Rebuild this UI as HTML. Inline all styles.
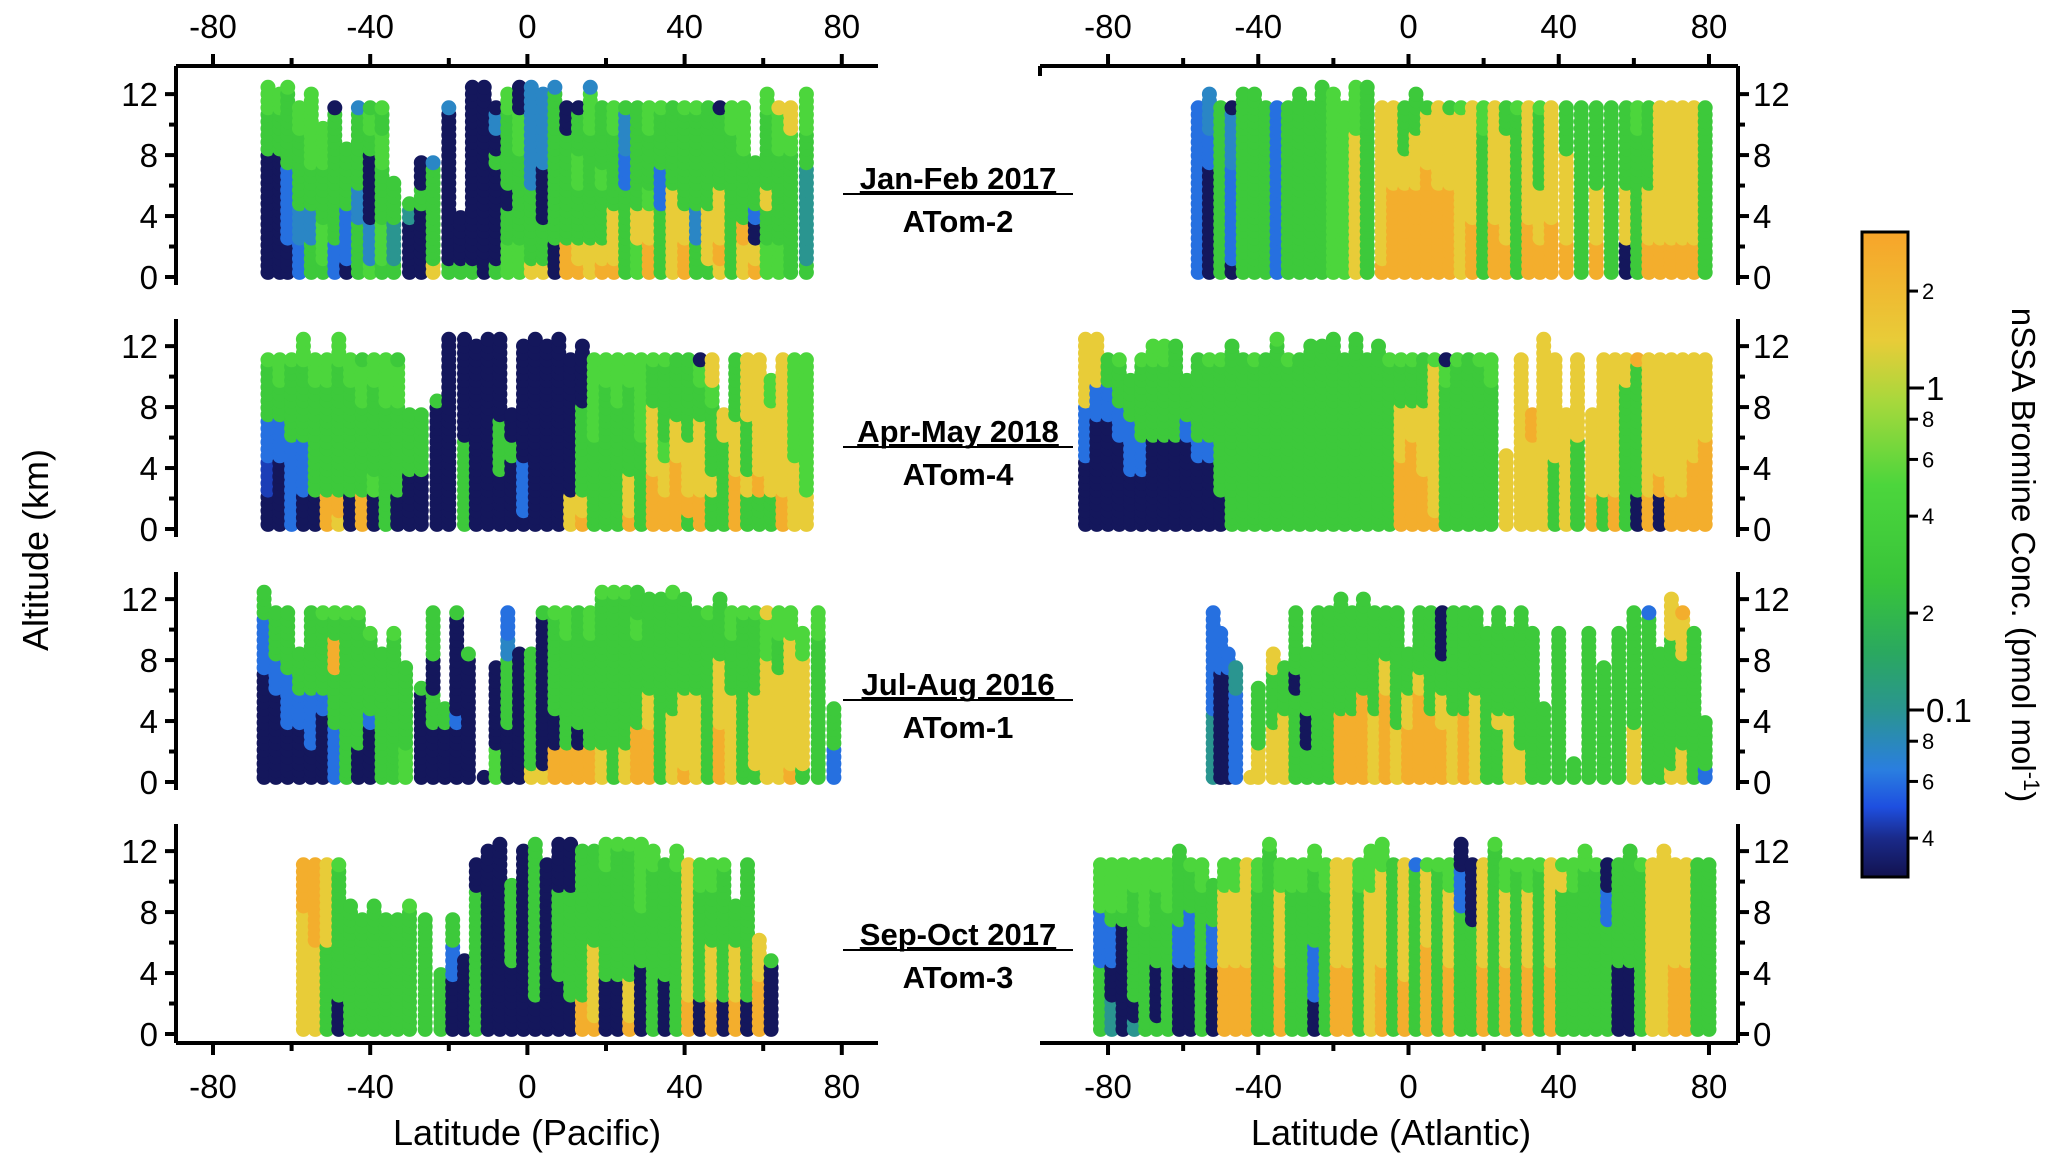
<!DOCTYPE html>
<html><head><meta charset="utf-8">
<style>
html,body{margin:0;padding:0;background:#fff;}
svg{display:block;font-family:"Liberation Sans Narrow","Liberation Sans",sans-serif;}
</style></head>
<body>
<svg id="chart" width="2067" height="1161" viewBox="0 0 2067 1161" xmlns="http://www.w3.org/2000/svg">
<defs>
<linearGradient id="cbgrad" x1="0" y1="1" x2="0" y2="0">
</linearGradient>
</defs>
<g id="marks"></g>
<g id="axes"></g>
</svg>
<script>
// ---- data: concentration (pmol/mol) levels indexed by code char ----
const levelValues = [0.032,0.045,0.06,0.075,0.1,0.3,0.5,1.4,2.5];
const layerKm = 1.2;
const latTicks = [-80,-40,0,40,80];
const altTicks = [0,4,8,12];
const cbMajor = [1,0.1];
const cbMinor = [2,0.8,0.6,0.4,0.2,0.08,0.06,0.04];
const cbMinorLabels = ["2","8","6","4","2","8","6","4"];
const seasons = ["Jan-Feb 2017","Apr-May 2018","Jul-Aug 2016","Sep-Oct 2017"];
const missions = ["ATom-2","ATom-4","ATom-1","ATom-3"];
// profiles: [latitude, concentration codes per altitude layer from 0 km upward]
const pac1 = [[-66,"0000000556667"],[-63,"00000005566"],[-61,"002222555566"],[-58,"2233555566"],[-55,"55335566666"],[-52,"566555666"],[-49,"2255555550"],[-46,"02225555"],[-43,"5553355553"],[-40,"6330000565"],[-37,"5665556656"],[-34,"544555"],[-30,"00045"],[-27,"0000500"],[-24,"7555553"],[-20,"5000000003"],[-17,"5000"],[-14,"500000000000"],[-11,"0000000000000"],[-8,"5000005030"],[-5,"66550555563"],[-2,"665555566000"],[1,"755553333333"],[4,"75500033330"],[7,"0055555555330"],[10,"8855555500"],[13,"8755566550"],[16,"7755555566333"],[19,"8755565555"],[22,"8777555566"],[25,"5555522335"],[28,"6677555555"],[31,"8877655566"],[34,"5555225556"],[37,"7777755555"],[40,"8877555556"],[43,"5533555556"],[46,"5777555555"],[49,"7877755550"],[52,"5555555566"],[55,"7785555666"],[58,"8702555"],[61,"66557555567"],[64,"6655555667"],[67,"5555555677"],[71,"54444455666"]];
const pac2 = [[-66,"0011225556"],[-63,"0000225566"],[-60,"2222255556"],[-57,"002225555666"],[-54,"0055555566"],[-51,"8855555566"],[-48,"785555555667"],[-45,"0055555566"],[-42,"8855555665"],[-39,"0065555566"],[-36,"5555555666"],[-33,"0055555665"],[-30,"0005555"],[-27,"0005555"],[-23,"00000005"],[-20,"0000000000000"],[-16,"555550000000"],[-13,"00000000000"],[-10,"0000000000000"],[-7,"000555000000"],[-4,"0000500"],[-1,"02220000000"],[2,"0000000000000"],[5,"00000000000"],[8,"0000000000000"],[11,"7700000000"],[14,"87555550000"],[17,"5555566666"],[20,"5555555566"],[23,"5555555666"],[26,"8775555566"],[29,"5555566666"],[32,"8887777556"],[35,"8877655556"],[38,"8888775555"],[41,"5877755555"],[44,"8877775560"],[47,"5575555677"],[50,"5555577"],[53,"8887775555"],[56,"5575557777"],[59,"5587777777"],[62,"557777766"],[65,"8877777777"],[68,"7777666666"],[71,"7766666666"]];
const pac3 = [[-67,"000000222555"],[-64,"0000022555"],[-61,"0002225555"],[-58,"00022555"],[-55,"0022255555"],[-52,"0000255556"],[-49,"2225558856"],[-46,"5555555556"],[-43,"0055555556"],[-40,"000255556"],[-37,"55555555"],[-34,"555555556"],[-31,"6655555"],[-27,"000005"],[-24,"0005500555"],[-21,"00055"],[-18,"0002000005"],[-15,"00000005"],[-11,"0"],[-8,"6600000"],[-5,"0005555322"],[-2,"00000000"],[1,"75555555"],[4,"7000000005"],[7,"8800555556"],[10,"8855555566"],[13,"8805555555"],[16,"8855555566"],[19,"775555555566"],[22,"555555555566"],[25,"7755555555666"],[28,"8885555565566"],[31,"88877555556"],[34,"55555555556"],[37,"777755555566"],[40,"87777555556"],[43,"7777755555"],[46,"5555555556"],[49,"88877775556"],[52,"7777755566"],[55,"5555555556"],[58,"5777755556"],[61,"7777777667"],[64,"7777775566"],[67,"8777777766"],[70,"577777766"],[74,"5555555566"],[78,"22555"]];
const pac4 = [[-57,"7777777888"],[-54,"7777788888"],[-51,"5555577777"],[-48,"0055555556"],[-45,"55555555"],[-42,"5555555"],[-39,"55555555"],[-36,"5555555"],[-33,"5555555"],[-30,"55555556"],[-26,"5555555"],[-22,"5555"],[-19,"0002255"],[-16,"00000"],[-13,"5555555500"],[-10,"00000000000"],[-7,"0000000000000"],[-4,"000055555"],[-1,"00000000000"],[2,"0055555555566"],[5,"0000000000"],[8,"000555550000"],[11,"0055555500000"],[14,"88555555555"],[17,"87777555556"],[20,"0005555556600"],[23,"0005555555666"],[26,"8775555555666"],[29,"000055566666"],[32,"55555555566"],[35,"0005555555"],[38,"55555555566"],[41,"8877777777"],[44,"0055555566"],[47,"8877755566"],[50,"0055555556"],[53,"88777555"],[56,"0055555555"],[59,"888777"],[62,"00005"]];
const atl1 = [[-56,"2222222222"],[-53,"00000022333"],[-50,"5555555555"],[-47,"0222223330"],[-44,"55555555550"],[-41,"55555555555"],[-38,"5555555555"],[-35,"2222222222"],[-32,"5555555555"],[-29,"55555555555"],[-26,"5555555555"],[-23,"5555555555555"],[-20,"66666666666"],[-17,"6666666666"],[-14,"7777777766666"],[-11,"5555555555555"],[-7,"8777777777"],[-4,"8888877777"],[-1,"8888877555"],[2,"88888777555"],[5,"8888887775"],[8,"8888877777"],[11,"8888877775"],[14,"7777777776"],[17,"8887777777"],[20,"5555555566"],[23,"8887777777"],[26,"8877777755"],[29,"5555555556"],[32,"8887777777"],[35,"8877755556"],[38,"8887777777"],[42,"8877777555"],[46,"5555555555"],[50,"8877755555"],[54,"5555555555"],[58,"0077755555"],[61,"5555555566"],[64,"8877755555"],[67,"8877777777"],[70,"8877777777"],[73,"8877777777"],[76,"8877777777"],[79,"5555555555"]];
const atl2 = [[-86,"000022277777"],[-83,"000000227777"],[-80,"0000002255"],[-77,"0000022556"],[-74,"000222555"],[-71,"0002255556"],[-68,"00000555566"],[-65,"00000555566"],[-62,"00000555556"],[-59,"000002555"],[-56,"0000255555"],[-53,"0000255556"],[-50,"0055555556"],[-47,"55555555556"],[-44,"5555555555"],[-41,"5555555556"],[-38,"5555555555"],[-35,"555555555566"],[-32,"5555555556"],[-29,"5555555555"],[-26,"55555555556"],[-23,"55555555555"],[-20,"555555555556"],[-17,"5555555555"],[-14,"555555555556"],[-11,"5555555555"],[-8,"55555555556"],[-5,"5555555556"],[-2,"8888777556"],[1,"8888877556"],[4,"8887777555"],[7,"8777777776"],[10,"5555555560"],[13,"5555555556"],[16,"5555555555"],[19,"5555555556"],[22,"5555555566"],[26,"77777"],[30,"7777777777"],[33,"7777788"],[36,"777777777777"],[39,"5555777777"],[42,"7777777"],[45,"5555577777"],[49,"8877777"],[52,"5577777777"],[55,"8877777777"],[58,"5555555577"],[61,"0055555558"],[64,"8877777777"],[67,"0087777777"],[70,"8877777777"],[73,"8877777777"],[76,"8888777777"],[79,"8888877777"]];
const atl3 = [[-52,"4444222222"],[-50,"000000222"],[-48,"00000022"],[-46,"2222244"],[-42,"7"],[-40,"775555"],[-36,"77755577"],[-33,"7777555"],[-30,"5555505555"],[-27,"55005555"],[-24,"5555555555"],[-21,"5555555555"],[-18,"88885555555"],[-15,"8888555555"],[-12,"88888555555"],[-9,"7777555555"],[-6,"8888877555"],[-3,"7775555555"],[0,"88877555"],[3,"8888875555"],[6,"8888555555"],[9,"8887755000"],[12,"7777555555"],[15,"8888555555"],[18,"7777755555"],[21,"555555555"],[24,"5557555555"],[27,"777755555"],[30,"7755555555"],[33,"555555555"],[36,"55555"],[40,"555555555"],[44,"55"],[48,"555555555"],[52,"5555555"],[56,"555555555"],[60,"7775555555"],[64,"5555555552"],[67,"55555555"],[70,"75555555777"],[73,"7755555778"],[76,"555555555"],[79,"2555"]];
const atl4 = [[-82,"5555222666"],[-79,"4400225666"],[-76,"0000005666"],[-73,"4055555566"],[-70,"5555556666"],[-67,"5000555566"],[-64,"5555555666"],[-61,"00002255556"],[-58,"0000222556"],[-55,"5555555566"],[-52,"000022555"],[-49,"8888777766"],[-46,"8888777766"],[-43,"8888777777"],[-40,"5555555566"],[-37,"555555555566"],[-34,"8888777766"],[-31,"5555555566"],[-28,"5555555566"],[-25,"00222555566"],[-22,"5555555566"],[-19,"8888777777"],[-16,"8888777777"],[-13,"5555555566"],[-10,"77777777666"],[-7,"8888777776666"],[-4,"5555555555"],[-1,"8887777777"],[2,"5555555552"],[5,"8888877776"],[8,"5555555556"],[11,"8888777766"],[14,"555555522000"],[17,"5555550000"],[20,"8888777777"],[23,"555555555566"],[26,"8888777766"],[29,"5555555556"],[32,"8888777766"],[35,"5555555556"],[38,"8888777777"],[41,"5555555576"],[44,"5555555566"],[47,"55555555568"],[50,"5555555556"],[53,"5555552200"],[56,"0000555555"],[59,"00005555552"],[62,"5555555556"],[65,"7777777777"],[68,"77777777777"],[71,"8888777777"],[74,"8888777777"],[77,"5555555555"],[80,"5555555555"]];

const NS="http://www.w3.org/2000/svg";
const marks=document.getElementById('marks');
const axes=document.getElementById('axes');
function el(tag,attrs,parent,text){const e=document.createElementNS(NS,tag);for(const k in attrs)e.setAttribute(k,attrs[k]);if(text!==undefined)e.textContent=text;(parent||axes).appendChild(e);return e;}

// colormap (log conc)
const cmapStops=[[0.03,[18,18,79]],[0.04,[26,42,138]],[0.05,[30,79,224]],[0.065,[42,126,224]],[0.1,[42,149,144]],[0.15,[42,168,96]],[0.25,[56,196,58]],[0.5,[76,214,60]],[0.9,[166,216,60]],[1.4,[232,204,56]],[3.0,[247,165,42]]];
function cmap(c){const l=Math.log10(c);
  if(c<=cmapStops[0][0])return rgb(cmapStops[0][1]);
  for(let i=1;i<cmapStops.length;i++){const a=cmapStops[i-1],b=cmapStops[i];
    if(c<=b[0]){const t=(l-Math.log10(a[0]))/(Math.log10(b[0])-Math.log10(a[0]));
      return rgb(a[1].map((v,j)=>Math.round(v+(b[1][j]-v)*t)));}}
  return rgb(cmapStops[cmapStops.length-1][1]);}
function rgb(a){return `rgb(${a[0]},${a[1]},${a[2]})`;}

// geometry
const y0s=[277,529,782,1034];
const kmPx=15.24;
const xPac=lat=>527.4+lat*3.93;
const xAtl=lat=>1408.5+lat*3.756;
const yAlt=(p,a)=>y0s[p]-a*kmPx;

const pacSets=[pac1,pac2,pac3,pac4], atlSets=[atl1,atl2,atl3,atl4];
function drawPanel(profiles,p,xf,side){
  const g=el('g',{},marks);
  
  
  profiles.forEach(pr=>{
    const lat=pr[0],codes=pr[1];
    const top=Math.min(12.7,(codes.length-1)*layerKm+0.3);
    for(let a=0.3;a<=top+0.01;a+=0.45){
      const idx=Math.min(codes.length-1,Math.floor(a/layerKm));
      const c=levelValues[+codes[idx]];
      const d=el('circle',{cx:xf(lat).toFixed(1),cy:yAlt(p,a).toFixed(1),r:7.5,fill:cmap(c)},g);
      
      
    }
  });
}
for(let p=0;p<4;p++){drawPanel(pacSets[p],p,xPac,'pacific');drawPanel(atlSets[p],p,xAtl,'atlantic');}

// axes
const S={stroke:'#000','stroke-width':4};
function hline(x1,x2,y,name){const l=el('line',Object.assign({x1,x2,y1:y,y2:y},S));}
function vline(x,y1,y2,name){const l=el('line',Object.assign({x1:x,x2:x,y1,y2},S));}
[[xPac,176,878,'pacific'],[xAtl,1040,1738,'atlantic']].forEach(([xf,l,r,side])=>{
  hline(l,r,66,side+'-top-axis');hline(l,r,1043,side+'-bottom-axis');
  for(let v=-80;v<=80;v+=20){const x=xf(v),maj=v%40===0;
    vline(x,66,66-(maj?12:8),'lat-tick');vline(x,1043,1043+(maj?12:8),'lat-tick');}
  latTicks.forEach(v=>{
    const t1=el('text',{x:xf(v),y:38,'font-size':33,'text-anchor':'middle'},axes,String(v));
    
    const t2=el('text',{x:xf(v),y:1098,'font-size':33,'text-anchor':'middle'},axes,String(v));
    });
});
vline(1040,66,76,'atlantic-top-axis-end');vline(176,1043,1033,'pacific-bottom-axis-end');
for(let p=0;p<4;p++){
  const top=p===0?66:y0s[p]-210, bot=p===3?1043:y0s[p]+8;
  vline(176,top,bot,'pacific-altitude-axis');vline(1738,top,bot,'atlantic-altitude-axis');
  for(let a=0;a<=12;a+=2){const y=yAlt(p,a),maj=a%4===0;
    el('line',Object.assign({x1:176,x2:176-(maj?11:7),y1:y,y2:y},S));
    el('line',Object.assign({x1:1738,x2:1738+(maj?11:7),y1:y,y2:y},S));}
  altTicks.forEach(a=>{const y=yAlt(p,a)+12;
    const t1=el('text',{x:158,y,'font-size':33,'text-anchor':'end'},axes,String(a));
    
    const t2=el('text',{x:1753,y,'font-size':33,'text-anchor':'start'},axes,String(a));
    });
  const cy=[179,432,685,935][p];
  const s=el('text',{x:958,y:cy+10,'font-size':31,'font-weight':'bold','text-anchor':'middle','text-decoration':'underline','font-family':'Liberation Sans, sans-serif'},axes,seasons[p]);
  
  el('line',{x1:843,x2:1073,y1:cy+15,y2:cy+15,stroke:'#000','stroke-width':2});
  const m=el('text',{x:958,y:cy+53,'font-size':31,'font-weight':'bold','text-anchor':'middle','font-family':'Liberation Sans, sans-serif'},axes,missions[p]);
  
}
const xt1=el('text',{x:527,y:1145,'font-size':36,'text-anchor':'middle','font-family':'Liberation Sans, sans-serif'},axes,'Latitude (Pacific)');

const xt2=el('text',{x:1391,y:1145,'font-size':36,'text-anchor':'middle','font-family':'Liberation Sans, sans-serif'},axes,'Latitude (Atlantic)');

const yt=el('text',{x:0,y:0,'font-size':36,'text-anchor':'middle','font-family':'Liberation Sans, sans-serif',transform:'translate(48,550) rotate(-90)'},axes,'Altitude (km)');


// colorbar
const cbTop=232,cbBot=877,cbL=1862,cbR=1908;
const cy=c=>388-Math.log10(c)*322;
const grad=document.getElementById('cbgrad');
cmapStops.forEach(s=>{
  el('stop',{offset:Math.max(0,Math.min(1,(cbBot-cy(s[0]))/(cbBot-cbTop))),'stop-color':rgb(s[1])},grad);});
const cb=el('rect',{x:cbL,y:cbTop,width:cbR-cbL,height:cbBot-cbTop,fill:'url(#cbgrad)',stroke:'#000','stroke-width':3});

cbMajor.forEach(v=>{const y=cy(v);
  el('line',{x1:cbR,x2:cbR+16,y1:y,y2:y,stroke:'#000','stroke-width':3});
  const t=el('text',{x:cbR+18,y:y+12,'font-size':33},axes,String(v));
  });
cbMinor.forEach((v,i)=>{const y=cy(v);
  el('line',{x1:cbR,x2:cbR+10,y1:y,y2:y,stroke:'#000','stroke-width':3});
  const t=el('text',{x:cbR+14,y:y+8,'font-size':22},axes,cbMinorLabels[i]);
  });
const ct=el('text',{x:0,y:0,'font-size':33,'text-anchor':'middle','font-family':'Liberation Sans, sans-serif',transform:'translate(2012,555) rotate(90)'},axes);

ct.appendChild(document.createTextNode('nSSA Bromine Conc. (pmol mol'));
el('tspan',{dy:-12,'font-size':22},ct,'-1');
el('tspan',{dy:12},ct,')');
</script>
</body></html>
